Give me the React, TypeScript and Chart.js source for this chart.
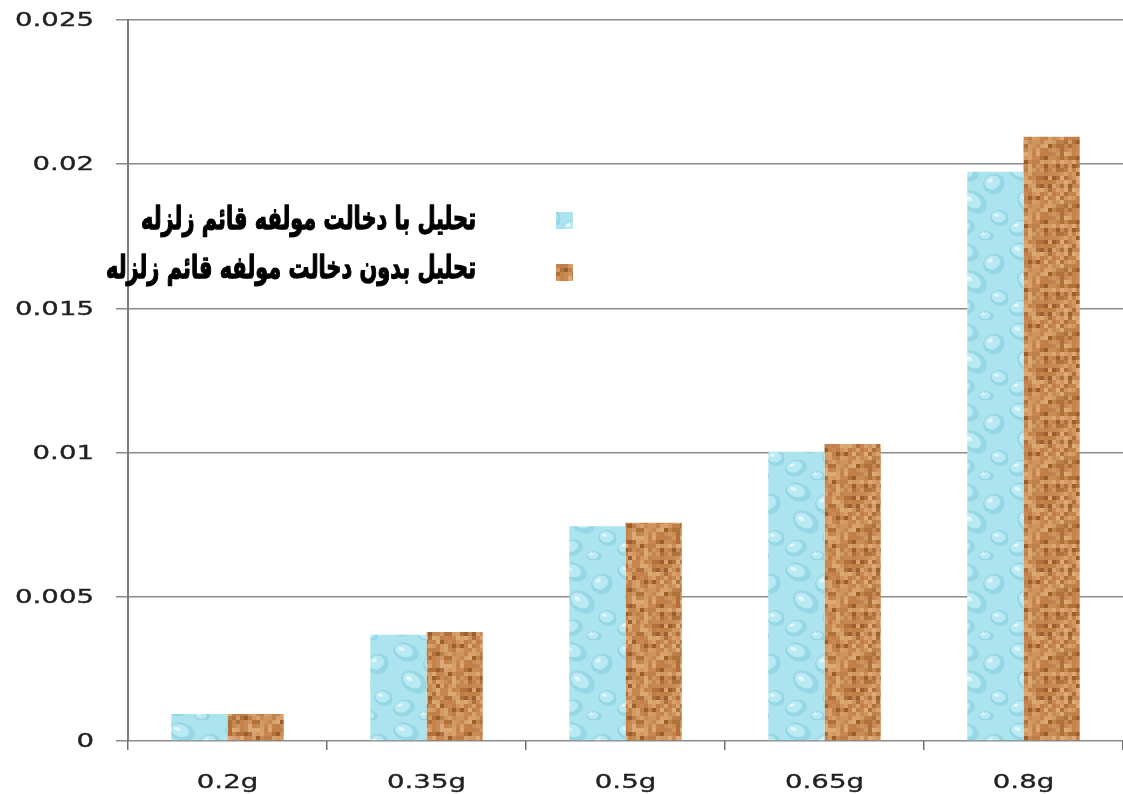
import React, { useEffect, useRef } from "react";
import { Chart, registerables } from "chart.js";

Chart.register(...registerables);

// Peak acceleration levels on the horizontal axis
const CATEGORIES = ["0.2g", "0.35g", "0.5g", "0.65g", "0.8g"];
// Analysis including the vertical earthquake component
const WITH_VERTICAL = [0.00094, 0.00368, 0.00745, 0.01003, 0.01974];
// Analysis excluding the vertical earthquake component
const WITHOUT_VERTICAL = [0.00094, 0.00378, 0.00757, 0.0103, 0.02095];
const SERIES_LABELS = [
  "تحليل با دخالت مولفه قائم زلزله",
  "تحليل بدون دخالت مولفه قائم زلزله",
];
const Y_MIN = 0;
const Y_MAX = 0.025;
const Y_STEP = 0.005;

const TICK_FONT = '20px "DejaVu Sans", Verdana, sans-serif';
const TICK_STRETCH = 1.38;

// Light blue "water drop" texture tile
function makeWaterPattern(ctx: CanvasRenderingContext2D): CanvasPattern | string {
  const W = 56;
  const H = 80;
  const tile = document.createElement("canvas");
  tile.width = W;
  tile.height = H;
  const t = tile.getContext("2d");
  if (!t) return "#aee4ef";
  t.fillStyle = "#abe3ee";
  t.fillRect(0, 0, W, H);
  const drops: [number, number, number, number, number][] = [
    [14, 12, 13, 9, 0.3],
    [42, 24, 11, 10, -0.4],
    [22, 42, 14, 10, 0.6],
    [48, 58, 10, 8, 0.2],
    [12, 68, 11, 8, -0.3],
    [34, 76, 8, 5, 0.1],
  ];
  drops.forEach(([x, y, rx, ry, rot]) => {
    t.beginPath();
    t.ellipse(x, y, rx, ry, rot, 0, Math.PI * 2);
    t.fillStyle = "rgba(125, 200, 218, 0.45)";
    t.fill();
    t.beginPath();
    t.ellipse(x - rx * 0.15, y - ry * 0.15, rx * 0.72, ry * 0.68, rot, 0, Math.PI * 2);
    t.fillStyle = "rgba(196, 239, 246, 0.75)";
    t.fill();
    t.beginPath();
    t.ellipse(x - rx * 0.35, y - ry * 0.35, rx * 0.25, ry * 0.2, rot, 0, Math.PI * 2);
    t.fillStyle = "rgba(235, 250, 252, 0.8)";
    t.fill();
  });
  return ctx.createPattern(tile, "repeat") || "#aee4ef";
}

// Cork texture tile made of small shaded cells
function makeCorkPattern(ctx: CanvasRenderingContext2D): CanvasPattern | string {
  const cell = 4;
  const n = 16;
  const tile = document.createElement("canvas");
  tile.width = cell * n;
  tile.height = cell * n;
  const t = tile.getContext("2d");
  if (!t) return "#c8884f";
  const shades = [
    "#c98b55", "#cf9460", "#bf7f48", "#d8a06b", "#c68750",
    "#b07039", "#dcaa76", "#c48449", "#9c5e2c", "#d29a63",
  ];
  for (let i = 0; i < n; i++) {
    for (let j = 0; j < n; j++) {
      const h = (((i * 374761393) ^ (j * 668265263)) >>> 0) % 9973;
      t.fillStyle = shades[h % shades.length];
      t.fillRect(i * cell, j * cell, cell, cell);
    }
  }
  return ctx.createPattern(tile, "repeat") || "#c8884f";
}

export default function App() {
  const canvasRef = useRef<HTMLCanvasElement | null>(null);

  useEffect(() => {
    const canvas = canvasRef.current;
    if (!canvas) return;
    const ctx = canvas.getContext("2d");
    if (!ctx) return;

    const water = makeWaterPattern(ctx);
    const cork = makeCorkPattern(ctx);

    // Draws stretched tick labels from the scales, plus the in-plot legend
    const overlay = {
      id: "overlay",
      afterDraw(chart: any) {
        const c = chart.ctx as CanvasRenderingContext2D;
        const yScale = chart.scales.y;
        const xScale = chart.scales.x;

        c.save();
        c.fillStyle = "#222";
        c.strokeStyle = "#222";
        c.lineWidth = 0.35;
        c.font = TICK_FONT;
        // y-axis labels, right aligned
        yScale.ticks.forEach((tick: any, i: number) => {
          const label = String(tick.label);
          const y = yScale.getPixelForTick(i);
          const w = c.measureText(label).width * TICK_STRETCH;
          c.save();
          c.translate(94 - w, y + 1);
          c.scale(TICK_STRETCH, 1);
          c.textAlign = "left";
          c.textBaseline = "middle";
          c.fillText(label, 0, 0);
          c.strokeText(label, 0, 0);
          c.restore();
        });
        // x-axis labels, centred under each category
        xScale.ticks.forEach((tick: any, i: number) => {
          const label = String(xScale.getLabelForValue(tick.value));
          const x = xScale.getPixelForTick(i);
          c.save();
          c.translate(x, 788);
          c.scale(TICK_STRETCH, 1);
          c.textAlign = "center";
          c.textBaseline = "alphabetic";
          c.fillText(label, 0, 0);
          c.strokeText(label, 0, 0);
          c.restore();
        });
        c.restore();

        // Legend: right-to-left labels with texture swatches
        c.save();
        c.font = 'bold 31px "DejaVu Sans", sans-serif';
        c.direction = "rtl";
        const widest = Math.max(...chart.data.datasets.map((d: any) => c.measureText(d.label).width));
        const stretch = 370 / widest;
        const rowsY = [221, 270];
        chart.data.datasets.forEach((ds: any, i: number) => {
          const y = rowsY[i];
          c.fillStyle = ds.backgroundColor;
          c.fillRect(556, y - 9 + (i === 1 ? 3 : 0), 17, 17);
          c.save();
          c.translate(476, y);
          c.scale(stretch, 1);
          c.fillStyle = "#000";
          c.strokeStyle = "#000";
          c.lineWidth = 1.3;
          c.lineJoin = "round";
          c.textAlign = "right";
          c.textBaseline = "middle";
          c.direction = "rtl";
          c.fillText(ds.label, 0, 0);
          c.strokeText(ds.label, 0, 0);
          c.restore();
        });
        c.restore();
      },
    };

    const chart = new Chart(ctx, {
      type: "bar",
      data: {
        labels: CATEGORIES,
        datasets: [
          {
            label: SERIES_LABELS[0],
            data: WITH_VERTICAL,
            backgroundColor: water as any,
            borderWidth: 0,
          },
          {
            label: SERIES_LABELS[1],
            data: WITHOUT_VERTICAL,
            backgroundColor: cork as any,
            borderWidth: 0,
          },
        ],
      },
      options: {
        animation: false,
        responsive: true,
        maintainAspectRatio: false,
        layout: { padding: { top: 20, right: 0, left: 0, bottom: 0 } },
        plugins: {
          legend: { display: false },
          tooltip: { enabled: false },
        },
        datasets: {
          bar: { categoryPercentage: 0.565, barPercentage: 1 },
        },
        scales: {
          x: {
            grid: {
              offset: true,
              drawOnChartArea: false,
              drawTicks: true,
              tickLength: 9,
              color: "#707070",
              lineWidth: 1.5,
            },
            border: { display: false },
            ticks: { color: "rgba(0,0,0,0)", font: { size: 20 }, padding: 14 },
            afterFit(scale: any) {
              scale.height = 53;
            },
          },
          y: {
            min: Y_MIN,
            max: Y_MAX,
            ticks: {
              stepSize: Y_STEP,
              color: "rgba(0,0,0,0)",
              font: { size: 20 },
              callback: (v: any) => String(Number(Number(v).toFixed(3))),
            },
            grid: {
              color: "#8a8a8a",
              lineWidth: 1.5,
              tickLength: 12,
              drawTicks: true,
            },
            border: { display: true, color: "#7a7a7a", width: 2 },
            afterFit(scale: any) {
              scale.width = 128;
            },
          },
        },
      },
      plugins: [overlay],
    });

    return () => chart.destroy();
  }, []);

  return (
    <div
      style={{
        position: "fixed",
        left: 0,
        top: 0,
        width: 1123,
        height: 794,
        background: "#fff",
      }}
    >
      <canvas ref={canvasRef} />
    </div>
  );
}
